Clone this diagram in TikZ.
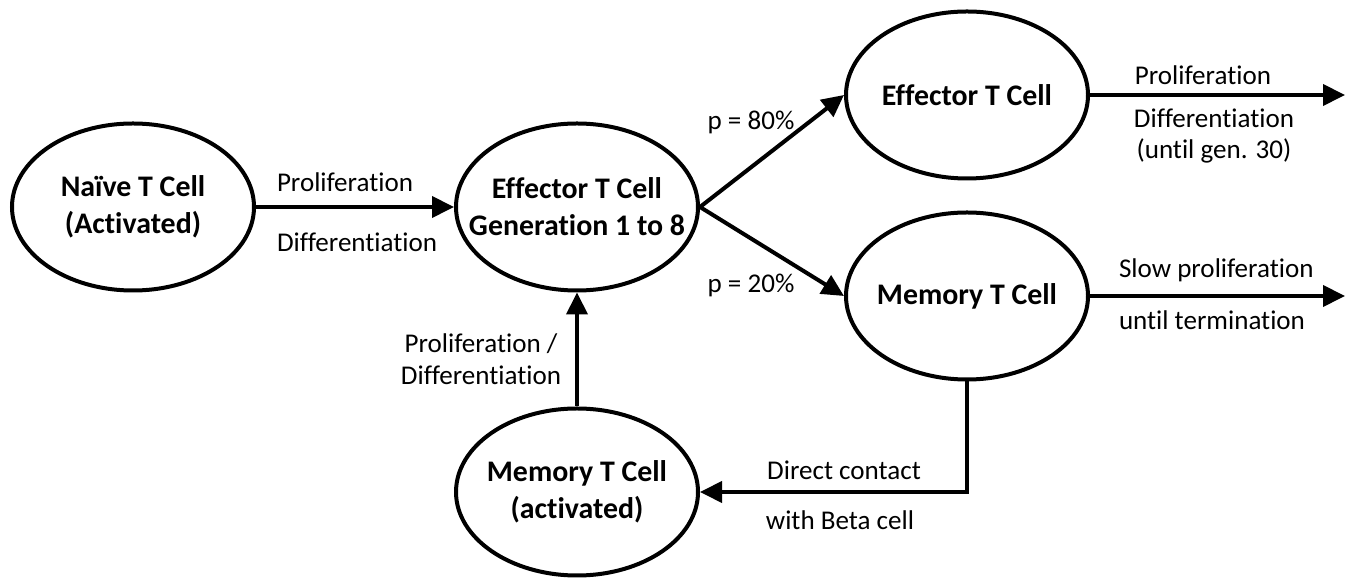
\documentclass[tikz,border=0pt]{standalone}
\usepackage{fontspec}
\setmainfont{Carlito}[Ligatures=NoCommon]
\usetikzlibrary{shapes.geometric,arrows.meta}

\tikzset{
  cell/.style={draw,ellipse,line width=0.08cm,minimum width=4.84cm,minimum height=3.34cm,
    inner xsep=-0.8cm,inner ysep=0pt,align=center,font=\fontsize{17}{21}\selectfont\bfseries},
  lbl/.style={font=\fontsize{15.4}{18}\selectfont,inner sep=0pt,align=center}
}

\begin{document}
\begin{tikzpicture}[>={Triangle[length=0.44cm,width=0.42cm]},line width=0.08cm]
	  \useasboundingbox (0,0) rectangle (27.04,-11.56);
	  \node[cell] (naive) at (2.66,-4.14) {Naïve T Cell\\(Activated)};
	  \node[cell] (effgen) at (11.54,-4.14) {Effector T Cell\\Generation 1 to 8};
	  \node[cell] (efftop) at (19.34,-1.90) {Effector T Cell};
	  \node[cell] (memtop) at (19.34,-5.92) {Memory T Cell};
	  \node[cell] (memact) at (11.54,-9.84) {Memory T Cell\\(activated)};
	  \coordinate (effend) at (26.90,-1.90);
	  \coordinate (memend) at (26.90,-5.92);
	  \node[lbl,anchor=west] (prolif) at (5.50,-3.64) {Proliferation};
	  \node[lbl,anchor=west] (differ) at (5.50,-4.84) {Differentiation};
	  \node[lbl] (peighty) at (15.02,-2.44) {p = 80\%};
	  \node[lbl] (ptwenty) at (15.02,-5.70) {p = 20\%};
	  \node[lbl] (prolifend) at (24.06,-1.50) {Proliferation};
	  \node[lbl] (differend) at (24.28,-2.72) {Differentiation\\(until gen. 30)};
	  \node[lbl,anchor=west] (slow) at (22.34,-5.40) {Slow proliferation};
	  \node[lbl,anchor=west] (until) at (22.34,-6.40) {until termination};
	  \node[lbl] (prolifback) at (9.62,-7.18) {Proliferation /\\Differentiation};
	  \node[lbl] (contact) at (16.88,-9.40) {Direct contact};
	  \node[lbl] (beta) at (16.80,-10.40) {with Beta cell};
	  \draw[->] (naive) -- (effgen);
	  \draw[->] (effgen.east) -- (efftop.west);
	  \draw[->] (effgen.east) -- (memtop.west);
	  \draw[->] (efftop) -- (effend);
	  \draw[->] (memtop) -- (memend);
	  \draw[->] (memtop.south) |- (memact.east);
	  \draw[->] (memact) -- (effgen);
	\end{tikzpicture}
\end{document}
